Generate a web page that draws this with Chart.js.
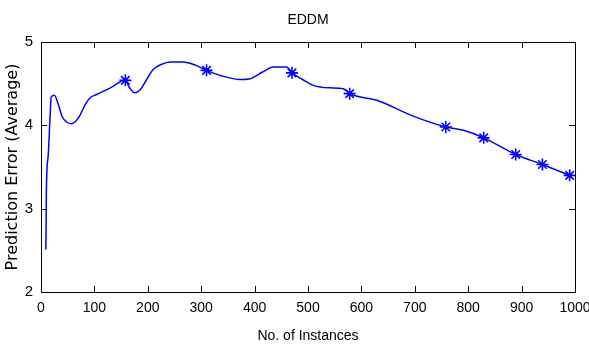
<!DOCTYPE html>
<html>
<head>
<meta charset="utf-8">
<title>EDDM</title>
<script src="https://cdn.jsdelivr.net/npm/chart.js@4.4.1/dist/chart.umd.min.js"></script>
<style>
  html, body { margin: 0; padding: 0; background: #fff; overflow: hidden; }
  #wrap { width: 589px; height: 349px; position: relative; }
</style>
</head>
<body>
<div id="wrap"><canvas id="chart"></canvas></div>
<script>
// ===============================
// DATA
// ===============================
const curveX = [9, 9.5, 10, 13.5, 17, 19, 25, 32, 40, 48, 57, 65, 73, 82, 92, 104, 130, 158,
  165, 175, 185, 198, 210, 225, 242, 266, 290, 310, 340, 373, 392, 415, 435, 460, 470,
  490, 510, 540, 566, 578, 629, 697, 758, 791, 829, 889, 939, 990];
const curveY = [2.51, 2.73, 3.19, 3.64, 4.10, 4.34, 4.36, 4.26, 4.10, 4.04, 4.02, 4.05, 4.12, 4.24, 4.33, 4.37, 4.45, 4.54,
  4.46, 4.39, 4.42, 4.55, 4.67, 4.73, 4.76, 4.76, 4.72, 4.66, 4.59, 4.55, 4.56, 4.64, 4.70, 4.70, 4.63,
  4.55, 4.48, 4.45, 4.44, 4.38, 4.30, 4.11, 3.98, 3.94, 3.85, 3.65, 3.53, 3.40];

// points marked with '*'
const markX = [158, 310, 470, 578, 758, 829, 889, 939, 990];
const markY = [4.54, 4.66, 4.63, 4.38, 3.98, 3.85, 3.65, 3.53, 3.40];

const xTicks = [0, 100, 200, 300, 400, 500, 600, 700, 800, 900, 1000];
const yTicks = [2, 3, 4, 5];

const SANS = "'Liberation Sans', Arial, Helvetica, sans-serif";
const BLUE = "#0000ff";


// ===============================
// MATLAB STYLE BOX + INWARD TICKS
// ===============================
const boxPlugin = {
  id: "boxTicks",
  afterDatasetsDraw(chart) {
    const {ctx, chartArea: a, scales} = chart;
    const len = 6;
    ctx.save();
    ctx.strokeStyle = "#000";
    ctx.lineWidth = 1;
    ctx.beginPath();
    ctx.rect(Math.round(a.left) + 0.5, Math.round(a.top) + 0.5,
      Math.round(a.right - a.left), Math.round(a.bottom - a.top));
    scales.x.ticks.forEach(t => {
      const px = Math.round(scales.x.getPixelForValue(t.value)) + 0.5;
      ctx.moveTo(px, a.bottom); ctx.lineTo(px, a.bottom - len);
      ctx.moveTo(px, a.top); ctx.lineTo(px, a.top + len);
    });
    scales.y.ticks.forEach(t => {
      const py = Math.round(scales.y.getPixelForValue(t.value)) + 0.5;
      ctx.moveTo(a.left, py); ctx.lineTo(a.left + len, py);
      ctx.moveTo(a.right, py); ctx.lineTo(a.right - len, py);
    });
    ctx.stroke();
    ctx.restore();
  }
};


// ===============================
// CHART
// ===============================
new Chart(document.getElementById("chart"), {
  type: "line",
  data: {
    datasets: [
      {
        data: curveX.map((x, i) => ({x: x, y: curveY[i]})),
        borderColor: BLUE,
        borderWidth: 1.5,
        pointRadius: 0,
        cubicInterpolationMode: "monotone",
        fill: false
      },
      {
        data: markX.map((x, i) => ({x: x, y: markY[i]})),
        showLine: false,
        pointStyle: "star",
        pointRadius: 6,
        pointBorderColor: BLUE,
        pointBorderWidth: 1.6,
        pointBackgroundColor: BLUE
      }
    ]
  },
  options: {
    responsive: true,
    maintainAspectRatio: false,
    animation: false,
    layout: { padding: { top: 0, right: 14, bottom: 0, left: 0 } },
    plugins: {
      legend: { display: false },
      tooltip: { enabled: false },
      title: {
        display: true,
        fullSize: false,
        text: "EDDM",
        color: "#000",
        font: { family: SANS, size: 14, weight: "normal" },
        padding: { top: 12, bottom: 13.2 }
      }
    },
    scales: {
      x: {
        type: "linear",
        min: xTicks[0],
        max: xTicks[xTicks.length - 1],
        afterBuildTicks: s => { s.ticks = xTicks.map(v => ({value: v})); },
        grid: { display: false, drawTicks: false },
        border: { display: false },
        ticks: {
          color: "#000", padding: 8, maxRotation: 0,
          font: { family: SANS, size: 14 },
          callback: v => String(v)
        },
        title: {
          display: true,
          text: "No. of Instances",
          color: "#000",
          font: { family: SANS, size: 14 },
          padding: { top: 0, bottom: 4 }
        },
        afterFit: s => { s.height = 57; s.paddingLeft = 0; s.paddingRight = 0; }
      },
      y: {
        min: yTicks[0],
        max: yTicks[yTicks.length - 1],
        afterBuildTicks: s => { s.ticks = yTicks.map(v => ({value: v})); },
        grid: { display: false, drawTicks: false },
        border: { display: false },
        ticks: {
          color: "#000", padding: 8,
          font: { family: SANS, size: 15 },
          callback: v => String(v)
        },
        title: {
          display: true,
          text: "Prediction Error (Average)",
          color: "#000",
          font: { family: "'DejaVu Sans', sans-serif", size: 16 },
          padding: { top: 3, bottom: 0 }
        },
        afterFit: s => { s.width = 41; }
      }
    }
  },
  plugins: [boxPlugin]
});
</script>
</body>
</html>
